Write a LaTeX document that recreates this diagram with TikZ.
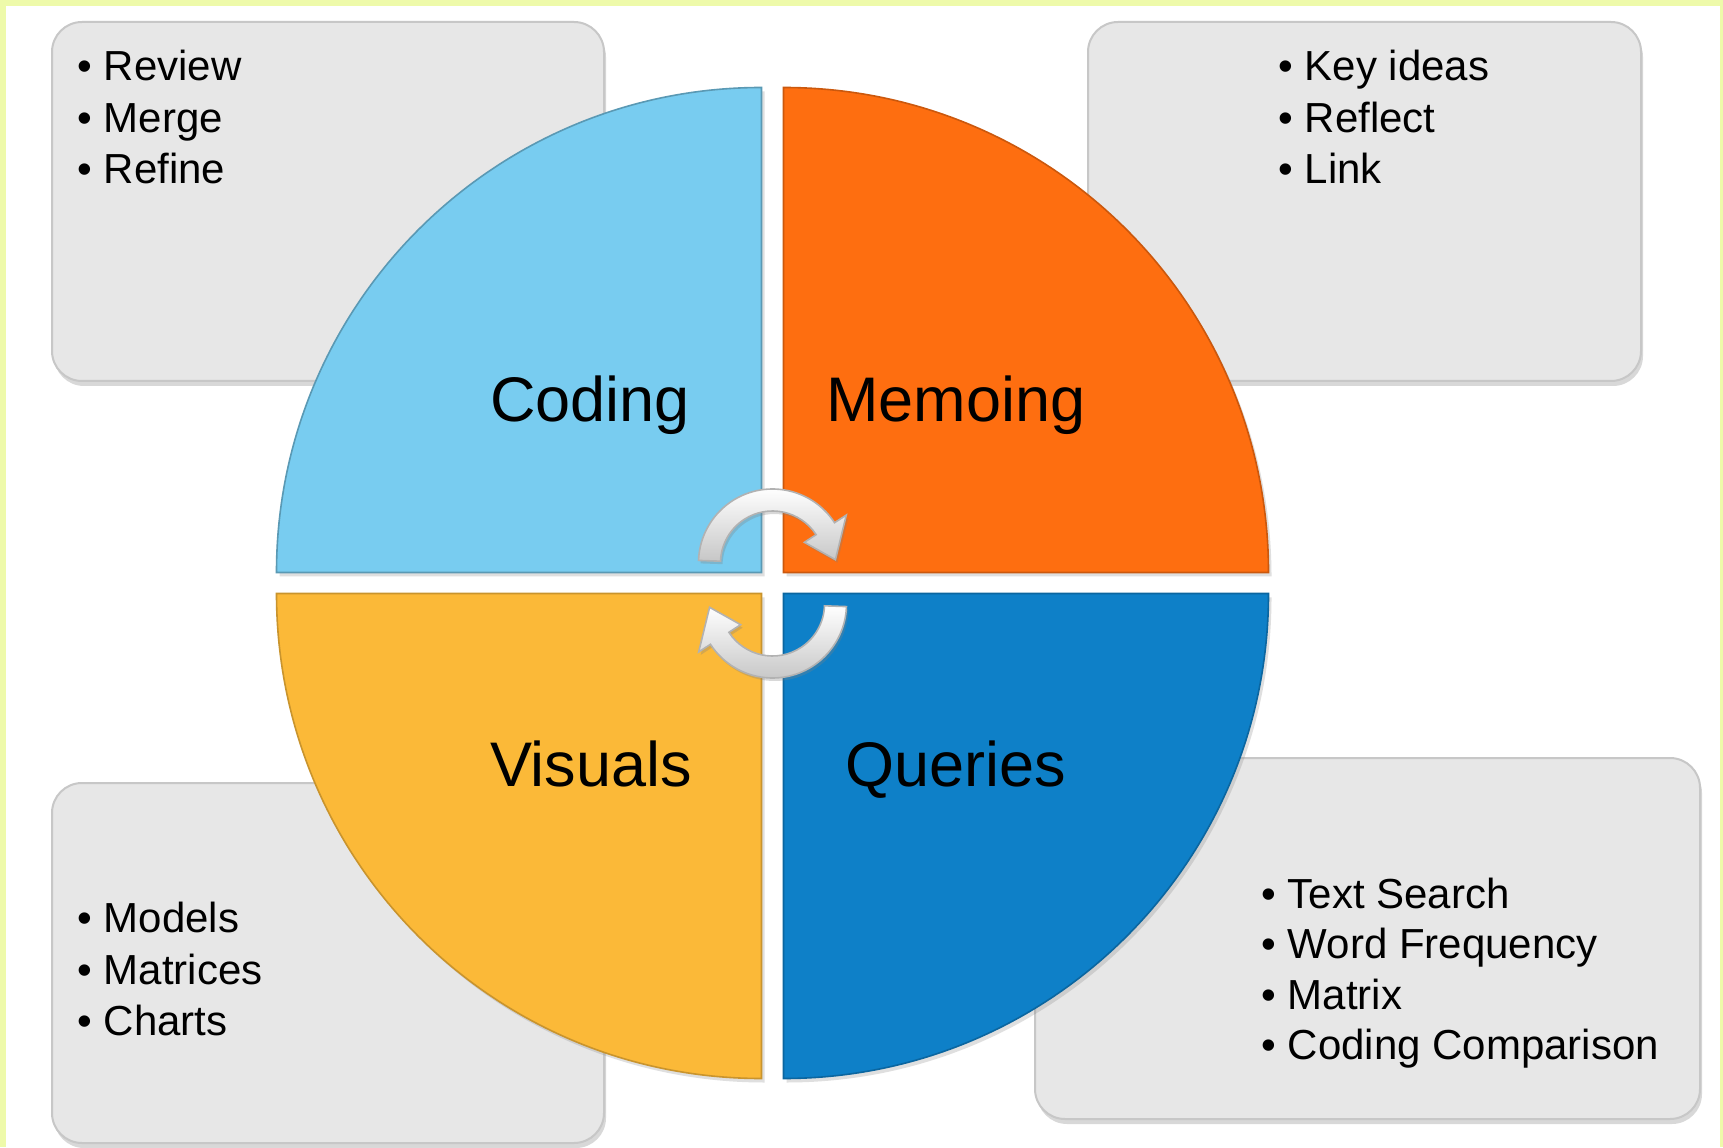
\documentclass[tikz,border=0pt]{standalone}
\usepackage{fontspec}
\setmainfont{Liberation Sans}
\usepackage{tikz}
\usetikzlibrary{calc, shadows}
\definecolor{frame}{RGB}{238,250,170}
\definecolor{boxgray}{RGB}{231,231,231}
\definecolor{codeblue}{RGB}{120,204,240}
\definecolor{memoorange}{RGB}{254,110,16}
\definecolor{visyellow}{RGB}{251,185,56}
\definecolor{qryblue}{RGB}{14,128,200}
\tikzstyle{box}=[fill=boxgray, draw=black!22, line width=1pt, rounded corners=15pt,
  drop shadow={opacity=.3, shadow xshift=1pt, shadow yshift=-2.5pt}]
\tikzstyle{item}=[anchor=base west, inner sep=0pt, font=\fontsize{21}{25}\selectfont]
\tikzstyle{lbl}=[anchor=base, inner sep=0pt, font=\fontsize{31.5}{38}\selectfont]
\tikzstyle{quad}=[line width=.8pt, drop shadow={opacity=.25, shadow xshift=1.5pt, shadow yshift=-2pt}]
\tikzstyle{swirl}=[top color=white, bottom color=black!22, draw=black!30, line width=.8pt,
  drop shadow={opacity=.3, shadow xshift=1pt, shadow yshift=-1.5pt}]

\begin{document}
\begin{tikzpicture}[x=0.5pt,y=0.5pt]
  \useasboundingbox (0,0) rectangle (1723,1147);
  \fill[frame] (0,0) rectangle (1723,1147);
  \fill[white] (6,0) rectangle (1720,1141);

  % note boxes
  \draw[box] (52,766) rectangle (604,1125);
  \draw[box] (1088,766) rectangle (1641,1125);
  \draw[box] (52,4) rectangle (604,364);
  \draw[box] (1035,28) rectangle (1700,389);

  \foreach \t [count=\i] in {Review,Merge,Refine}
    \node[item] (tl\i) at (77,{1117.5-51.5*\i}) {\textbullet\ \t};
  \foreach \t [count=\i] in {Key ideas,Reflect,Link}
    \node[item] (tr\i) at (1278,{1117.5-51.5*\i}) {\textbullet\ \t};
  \foreach \t [count=\i] in {Models,Matrices,Charts}
    \node[item] (bl\i) at (77,{266-51.5*\i}) {\textbullet\ \t};
  \foreach \t [count=\i] in {Text Search,Word Frequency,Matrix,Coding Comparison}
    \node[item] (br\i) at (1261,{289.5-50.5*\i}) {\textbullet\ \t};

  % the four quarters
  \coordinate (o) at (772.5,564);
  \path[quad, fill=codeblue, draw=codeblue!75!black] ($(o)+(-11,10.5)$) -- ++(-485,0)
    arc[start angle=180, end angle=90, radius=485] -- cycle;
  \path[quad, fill=memoorange, draw=memoorange!80!black] ($(o)+(11,10.5)$) -- ++(0,485)
    arc[start angle=90, end angle=0, radius=485] -- cycle;
  \path[quad, fill=visyellow, draw=visyellow!80!black] ($(o)+(-11,-10.5)$) -- ++(-485,0)
    arc[start angle=180, end angle=270, radius=485] -- cycle;
  \path[quad, fill=qryblue, draw=qryblue!80!black] ($(o)+(11,-10.5)$) -- ++(485,0)
    arc[start angle=0, end angle=-90, radius=485] -- cycle;

  \node[lbl] (coding) at (590,725) {Coding};
  \node[lbl] (memo) at (956,725) {Memoing};
  \node[lbl] (vis) at (591,361) {Visuals};
  \node[lbl] (qry) at (956,361) {Queries};

  % cycle arrows
  \coordinate (a) at ($(o)+(0,20)$);
  \coordinate (b) at ($(o)+(0,-21)$);
  \path[swirl] ($(a)+(178:74)$) arc[start angle=178, end angle=33, radius=74]
    -- ($(a)+(33:88)$) -- ($(a)+(3:63)$) -- ($(a)+(33:38)$) -- ($(a)+(33:52)$)
    arc[start angle=33, end angle=178, radius=52] -- cycle;
  \path[swirl] ($(b)+(-2:74)$) arc[start angle=-2, end angle=-147, radius=74]
    -- ($(b)+(-147:88)$) -- ($(b)+(-177:63)$) -- ($(b)+(-147:38)$) -- ($(b)+(-147:52)$)
    arc[start angle=-147, end angle=-2, radius=52] -- cycle;
\end{tikzpicture}
\end{document}
